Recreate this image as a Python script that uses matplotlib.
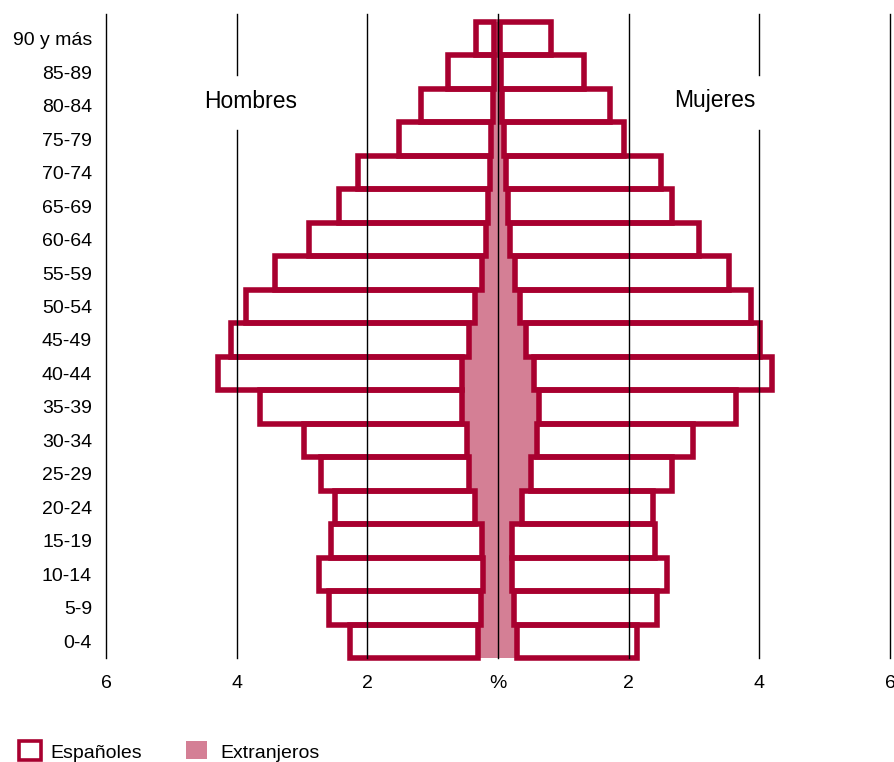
import matplotlib
matplotlib.use("Agg")
import matplotlib.pyplot as plt
from matplotlib.patches import Rectangle
import numpy as np

plt.rcParams['font.family'] = ['Liberation Sans', 'DejaVu Sans']

age_groups = ["0-4", "5-9", "10-14", "15-19", "20-24", "25-29", "30-34", "35-39",
              "40-44", "45-49", "50-54", "55-59", "60-64", "65-69", "70-74",
              "75-79", "80-84", "85-89", "90 y más"]

# Percent of total population
men_foreign = [0.31, 0.26, 0.225, 0.245, 0.35, 0.44, 0.48, 0.555, 0.555, 0.45,
               0.35, 0.25, 0.18, 0.16, 0.13, 0.11, 0.08, 0.055, 0.055]
men_spanish = [1.95, 2.32, 2.515, 2.315, 2.14, 2.27, 2.49, 3.085, 3.725, 3.64,
               3.50, 3.17, 2.71, 2.28, 2.02, 1.41, 1.10, 0.705, 0.285]
women_foreign = [0.285, 0.25, 0.22, 0.22, 0.36, 0.50, 0.59, 0.62, 0.555, 0.43,
                 0.34, 0.26, 0.19, 0.16, 0.12, 0.09, 0.057, 0.045, 0.03]
women_spanish = [1.845, 2.18, 2.36, 2.18, 2.01, 2.16, 2.40, 3.03, 3.635, 3.58,
                 3.54, 3.28, 2.88, 2.51, 2.38, 1.84, 1.66, 1.275, 0.78]

x_ticks = [-6, -4, -2, 0, 2, 4, 6]
x_ticklabels = ["6", "4", "2", "%", "2", "4", "6"]

RED = "#A8002F"
PINK = "#D47F95"

W, H = 894, 762
fig = plt.figure(figsize=(W / 100, H / 100), dpi=100)
ax = fig.add_axes([106 / W, 1 - 658 / H, 784 / W, 644 / H])

y = np.arange(len(age_groups))
mf = np.array(men_foreign)
ms = np.array(men_spanish)
wf = np.array(women_foreign)
ws = np.array(women_spanish)

# Foreigners (filled)
ax.barh(y, -mf, height=1.0, color=PINK, edgecolor='none', zorder=2)
ax.barh(y, wf, height=1.0, color=PINK, edgecolor='none', zorder=2)
# Spaniards (outlined), stacked outside foreigners
b1 = ax.barh(y, -ms, left=-mf, height=1.0, facecolor='none', edgecolor=RED,
             linewidth=4.0, zorder=3)
b2 = ax.barh(y, ws, left=wf, height=1.0, facecolor='none', edgecolor=RED,
             linewidth=4.0, zorder=3)
for p in list(b1) + list(b2):
    p.set_clip_on(False)

ax.set_xlim(-6, 6)
ax.set_ylim(-0.5, 18.5 + 8 / 33.5)

# Vertical grid lines
for xv in [-6, -2, 0, 2, 6]:
    ax.axvline(xv, color='black', linewidth=1.0, zorder=5, clip_on=False)
for xv in [-4, 4]:
    ax.axvline(xv, ymin=0, ymax=0.820, color='black', linewidth=1.0, zorder=5, clip_on=False)
    ax.axvline(xv, ymin=0.905, ymax=1, color='black', linewidth=1.0, zorder=5, clip_on=False)

ax.text(-3.78, 16.11, "Hombres", fontsize=16.5, ha='center', va='center', zorder=6)
ax.text(3.32, 16.14, "Mujeres", fontsize=16.5, ha='center', va='center', zorder=6)

ax.set_xticks(x_ticks)
ax.set_xticklabels(x_ticklabels, fontsize=14)
ax.set_yticks(y)
ax.set_yticklabels(age_groups, fontsize=14)
ax.tick_params(axis='both', length=0)
ax.tick_params(axis='x', pad=12)
ax.tick_params(axis='y', pad=10)
for s in ax.spines.values():
    s.set_visible(False)

# Legend
fig.add_artist(Rectangle((19 / W, 1 - 760 / H), 22 / W, 19 / H, transform=fig.transFigure,
                         facecolor='white', edgecolor=RED, linewidth=2.6))
fig.text(50 / W, 1 - 753 / H, "Españoles", fontsize=14, ha='left', va='center')
fig.add_artist(Rectangle((186 / W, 1 - 759 / H), 21 / W, 18 / H, transform=fig.transFigure,
                         facecolor=PINK, edgecolor='none'))
fig.text(220 / W, 1 - 753 / H, "Extranjeros", fontsize=14, ha='left', va='center')

fig.savefig("out.png", dpi=100)
